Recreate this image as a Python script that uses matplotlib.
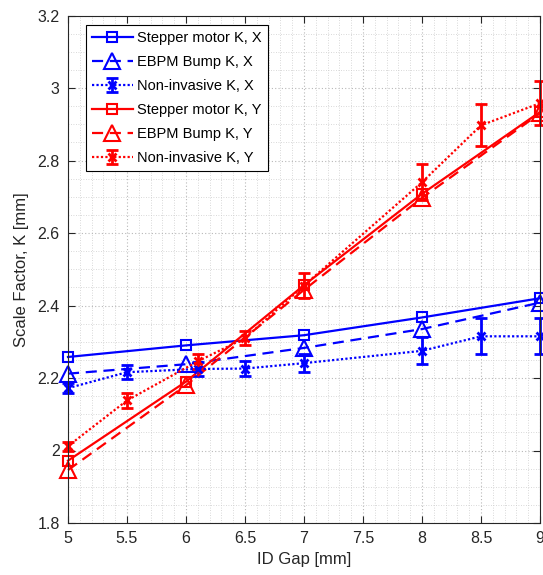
import matplotlib
matplotlib.use("Agg")
import matplotlib.pyplot as plt
from matplotlib.ticker import MultipleLocator

plt.rcParams['font.family'] = ['Liberation Sans', 'DejaVu Sans']

# gap settings (mm)
gap_motor = [5, 6, 7, 8, 9]
gap_ni = [5, 5.5, 6.1, 6.5, 7, 8, 8.5, 9]

# horizontal scale factor
kx_motor = [2.258, 2.29, 2.318, 2.367, 2.42]
kx_bump = [2.212, 2.238, 2.283, 2.335, 2.408]
kx_ni = [2.172, 2.216, 2.225, 2.226, 2.241, 2.275, 2.315, 2.315]
kx_ni_err = [0.014, 0.02, 0.02, 0.02, 0.025, 0.037, 0.05, 0.05]

# vertical scale factor
ky_motor = [1.972, 2.19, 2.456, 2.708, 2.934]
ky_bump = [1.946, 2.18, 2.443, 2.697, 2.93]
ky_ni = [2.012, 2.138, 2.246, 2.31, 2.455, 2.74, 2.897, 2.958]
ky_ni_err = [0.012, 0.02, 0.02, 0.02, 0.035, 0.05, 0.058, 0.06]

x_ticks = [5, 5.5, 6, 6.5, 7, 7.5, 8, 8.5, 9]
y_ticks = [1.8, 2, 2.2, 2.4, 2.6, 2.8, 3, 3.2]

dark = (0.15, 0.15, 0.15)
lw = 1.6

fig = plt.figure(figsize=(5.43, 5.75), dpi=100)
ax = fig.add_axes([68 / 543, 52 / 575, 472 / 543, 507.5 / 575])

handles = []
for col, motor, bump, ni, err, ax_name in [
        ('#0000ff', kx_motor, kx_bump, kx_ni, kx_ni_err, 'X'),
        ('#ff0000', ky_motor, ky_bump, ky_ni, ky_ni_err, 'Y')]:
    h1, = ax.plot(gap_motor, motor, '-', color=col, lw=lw, marker='s', ms=7.5,
                  mfc='none', mew=1.5, label='Stepper motor K, ' + ax_name, clip_on=False)
    h2, = ax.plot(gap_motor, bump, color=col, lw=lw, ls=(0, (5, 3)), marker='^', ms=11,
                  mfc='none', mew=1.5, label='EBPM Bump K, ' + ax_name, clip_on=False)
    h3 = ax.errorbar(gap_ni, ni, yerr=err, color=col, lw=lw, ls=(0, (1, 1)), marker='x',
                     ms=6, mew=2, capsize=4, elinewidth=2, capthick=2,
                     label='Non-invasive K, ' + ax_name, clip_on=False)
    handles += [h1, h2, h3]

ax.set_xlim(5, 9)
ax.set_ylim(1.8, 3.2)
ax.set_xticks(x_ticks)
ax.set_xticklabels([f'{v:g}' for v in x_ticks])
ax.set_yticks(y_ticks)
ax.set_yticklabels([f'{v:g}' for v in y_ticks])
ax.xaxis.set_minor_locator(MultipleLocator(0.1))
ax.yaxis.set_minor_locator(MultipleLocator(0.05))

ax.grid(True, which='major', color='#b8b8b8', ls=(0, (1, 2)), lw=0.8)
ax.grid(True, which='minor', color='#cccccc', ls=(0, (1, 2)), lw=0.6)
ax.set_axisbelow(True)
ax.tick_params(which='major', direction='in', length=5, width=0.8, colors=dark,
               labelsize=11.5, top=True, right=True, pad=6)
ax.tick_params(which='minor', length=0, top=True, right=True)
for s in ax.spines.values():
    s.set_color(dark)
    s.set_linewidth(0.8)

ax.set_xlabel('ID Gap [mm]', fontsize=12, color=dark, labelpad=4)
ax.set_ylabel('Scale Factor, K [mm]', fontsize=12, color=dark, labelpad=6)

leg = ax.legend(handles=handles, loc='upper left',
                bbox_to_anchor=(18 / 472, 1 - 10 / 507.5),
                borderaxespad=0, fontsize=10.5, labelspacing=0.68, handlelength=2.8,
                handletextpad=0.3, borderpad=0.4, fancybox=False, framealpha=1,
                edgecolor='black')
leg.get_frame().set_linewidth(0.8)

fig.savefig('out.png', dpi=100)
